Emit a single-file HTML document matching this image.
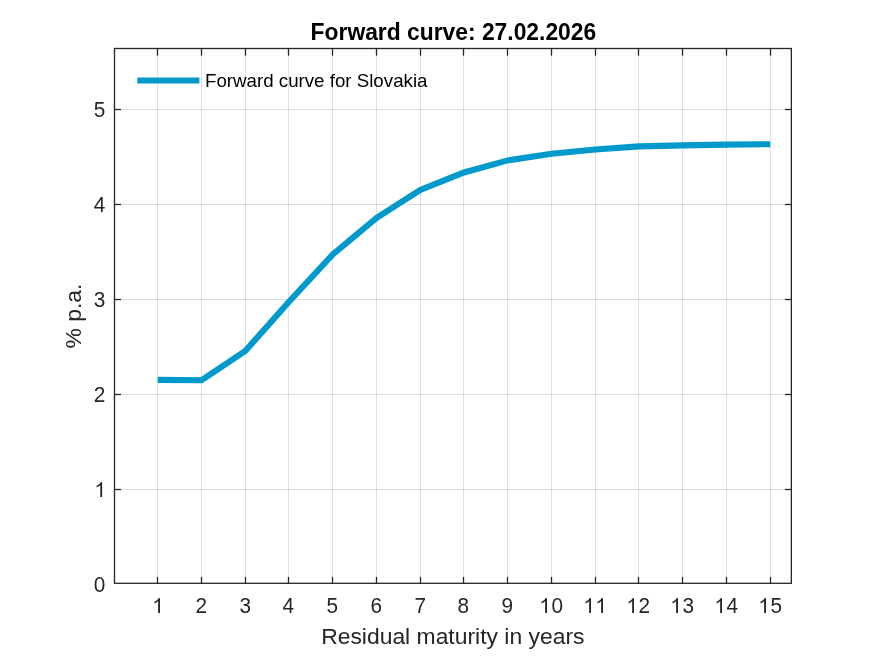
<!DOCTYPE html>
<html><head><meta charset="utf-8"><style>
html,body{margin:0;padding:0;background:#fff;}
body{width:875px;height:656px;overflow:hidden;}
svg{display:block;will-change:transform;}
text{font-family:"Liberation Sans",sans-serif;fill:#262626;font-kerning:none;}
</style></head><body>
<svg width="875" height="656" viewBox="0 0 875 656">
<rect x="0" y="0" width="875" height="656" fill="#fff"/>
<g stroke="#262626" stroke-opacity="0.15" stroke-width="1" shape-rendering="crispEdges">
<line x1="157.50" y1="48.50" x2="157.50" y2="583.30"/>
<line x1="201.50" y1="48.50" x2="201.50" y2="583.30"/>
<line x1="245.50" y1="48.50" x2="245.50" y2="583.30"/>
<line x1="288.50" y1="48.50" x2="288.50" y2="583.30"/>
<line x1="332.50" y1="48.50" x2="332.50" y2="583.30"/>
<line x1="376.50" y1="48.50" x2="376.50" y2="583.30"/>
<line x1="420.50" y1="48.50" x2="420.50" y2="583.30"/>
<line x1="463.50" y1="48.50" x2="463.50" y2="583.30"/>
<line x1="507.50" y1="48.50" x2="507.50" y2="583.30"/>
<line x1="551.50" y1="48.50" x2="551.50" y2="583.30"/>
<line x1="595.50" y1="48.50" x2="595.50" y2="583.30"/>
<line x1="638.50" y1="48.50" x2="638.50" y2="583.30"/>
<line x1="682.50" y1="48.50" x2="682.50" y2="583.30"/>
<line x1="726.50" y1="48.50" x2="726.50" y2="583.30"/>
<line x1="770.50" y1="48.50" x2="770.50" y2="583.30"/>
<line x1="114.50" y1="489.50" x2="791.35" y2="489.50"/>
<line x1="114.50" y1="394.50" x2="791.35" y2="394.50"/>
<line x1="114.50" y1="299.50" x2="791.35" y2="299.50"/>
<line x1="114.50" y1="204.50" x2="791.35" y2="204.50"/>
<line x1="114.50" y1="109.50" x2="791.35" y2="109.50"/>
</g>
<polyline points="157.75,379.90 201.50,380.30 245.25,351.00 289.00,301.80 332.75,254.50 376.50,218.00 420.25,190.00 464.00,172.50 507.75,160.40 551.50,153.80 595.25,149.50 639.00,146.40 682.75,145.40 726.50,144.60 770.25,144.20" fill="none" stroke="#0099cc" stroke-width="6.1" stroke-linejoin="miter" stroke-linecap="butt"/>
<line x1="137.3" y1="80.5" x2="199.4" y2="80.5" stroke="#0099cc" stroke-width="6.1"/>
<text transform="translate(205.00,86.70) scale(1,1.0)" font-size="18.72" style="fill:#000">Forward curve for Slovakia</text>
<g stroke="#262626" stroke-width="1.3">
<rect x="114.50" y="48.50" width="676.85" height="534.80" fill="none"/>
<line x1="157.50" y1="583.30" x2="157.50" y2="576.80"/>
<line x1="157.50" y1="48.50" x2="157.50" y2="55.70"/>
<line x1="201.50" y1="583.30" x2="201.50" y2="576.80"/>
<line x1="201.50" y1="48.50" x2="201.50" y2="55.70"/>
<line x1="245.50" y1="583.30" x2="245.50" y2="576.80"/>
<line x1="245.50" y1="48.50" x2="245.50" y2="55.70"/>
<line x1="288.50" y1="583.30" x2="288.50" y2="576.80"/>
<line x1="288.50" y1="48.50" x2="288.50" y2="55.70"/>
<line x1="332.50" y1="583.30" x2="332.50" y2="576.80"/>
<line x1="332.50" y1="48.50" x2="332.50" y2="55.70"/>
<line x1="376.50" y1="583.30" x2="376.50" y2="576.80"/>
<line x1="376.50" y1="48.50" x2="376.50" y2="55.70"/>
<line x1="420.50" y1="583.30" x2="420.50" y2="576.80"/>
<line x1="420.50" y1="48.50" x2="420.50" y2="55.70"/>
<line x1="463.50" y1="583.30" x2="463.50" y2="576.80"/>
<line x1="463.50" y1="48.50" x2="463.50" y2="55.70"/>
<line x1="507.50" y1="583.30" x2="507.50" y2="576.80"/>
<line x1="507.50" y1="48.50" x2="507.50" y2="55.70"/>
<line x1="551.50" y1="583.30" x2="551.50" y2="576.80"/>
<line x1="551.50" y1="48.50" x2="551.50" y2="55.70"/>
<line x1="595.50" y1="583.30" x2="595.50" y2="576.80"/>
<line x1="595.50" y1="48.50" x2="595.50" y2="55.70"/>
<line x1="638.50" y1="583.30" x2="638.50" y2="576.80"/>
<line x1="638.50" y1="48.50" x2="638.50" y2="55.70"/>
<line x1="682.50" y1="583.30" x2="682.50" y2="576.80"/>
<line x1="682.50" y1="48.50" x2="682.50" y2="55.70"/>
<line x1="726.50" y1="583.30" x2="726.50" y2="576.80"/>
<line x1="726.50" y1="48.50" x2="726.50" y2="55.70"/>
<line x1="770.50" y1="583.30" x2="770.50" y2="576.80"/>
<line x1="770.50" y1="48.50" x2="770.50" y2="55.70"/>
<line x1="114.50" y1="489.50" x2="121.00" y2="489.50"/>
<line x1="791.35" y1="489.50" x2="784.85" y2="489.50"/>
<line x1="114.50" y1="394.50" x2="121.00" y2="394.50"/>
<line x1="791.35" y1="394.50" x2="784.85" y2="394.50"/>
<line x1="114.50" y1="299.50" x2="121.00" y2="299.50"/>
<line x1="791.35" y1="299.50" x2="784.85" y2="299.50"/>
<line x1="114.50" y1="204.50" x2="121.00" y2="204.50"/>
<line x1="791.35" y1="204.50" x2="784.85" y2="204.50"/>
<line x1="114.50" y1="109.50" x2="121.00" y2="109.50"/>
<line x1="791.35" y1="109.50" x2="784.85" y2="109.50"/>
</g>
<g>
<path fill="#262626" transform="translate(152.50,612.90) scale(0.01016,-0.01016)" d="M738 0H558V1147C515 1106 458 1065 388 1024C318 983 255 952 198 931V1105C298 1152 385 1209 460 1276C535 1343 588 1408 619 1472H738Z"/>
<text transform="translate(195.50,612.90) scale(1,1.03)" font-size="20.8">2</text>
<text transform="translate(239.50,612.90) scale(1,1.03)" font-size="20.8">3</text>
<text transform="translate(282.50,612.90) scale(1,1.03)" font-size="20.8">4</text>
<text transform="translate(326.50,612.90) scale(1,1.03)" font-size="20.8">5</text>
<text transform="translate(370.50,612.90) scale(1,1.03)" font-size="20.8">6</text>
<text transform="translate(414.50,612.90) scale(1,1.03)" font-size="20.8">7</text>
<text transform="translate(457.50,612.90) scale(1,1.03)" font-size="20.8">8</text>
<text transform="translate(501.50,612.90) scale(1,1.03)" font-size="20.8">9</text>
<path fill="#262626" transform="translate(539.50,612.90) scale(0.01016,-0.01016)" d="M738 0H558V1147C515 1106 458 1065 388 1024C318 983 255 952 198 931V1105C298 1152 385 1209 460 1276C535 1343 588 1408 619 1472H738Z"/><text transform="translate(551.50,612.90) scale(1,1.03)" font-size="20.8">0</text>
<path fill="#262626" transform="translate(583.50,612.90) scale(0.01016,-0.01016)" d="M738 0H558V1147C515 1106 458 1065 388 1024C318 983 255 952 198 931V1105C298 1152 385 1209 460 1276C535 1343 588 1408 619 1472H738Z"/><path fill="#262626" transform="translate(595.50,612.90) scale(0.01016,-0.01016)" d="M738 0H558V1147C515 1106 458 1065 388 1024C318 983 255 952 198 931V1105C298 1152 385 1209 460 1276C535 1343 588 1408 619 1472H738Z"/>
<path fill="#262626" transform="translate(626.50,612.90) scale(0.01016,-0.01016)" d="M738 0H558V1147C515 1106 458 1065 388 1024C318 983 255 952 198 931V1105C298 1152 385 1209 460 1276C535 1343 588 1408 619 1472H738Z"/><text transform="translate(638.50,612.90) scale(1,1.03)" font-size="20.8">2</text>
<path fill="#262626" transform="translate(670.50,612.90) scale(0.01016,-0.01016)" d="M738 0H558V1147C515 1106 458 1065 388 1024C318 983 255 952 198 931V1105C298 1152 385 1209 460 1276C535 1343 588 1408 619 1472H738Z"/><text transform="translate(682.50,612.90) scale(1,1.03)" font-size="20.8">3</text>
<path fill="#262626" transform="translate(714.50,612.90) scale(0.01016,-0.01016)" d="M738 0H558V1147C515 1106 458 1065 388 1024C318 983 255 952 198 931V1105C298 1152 385 1209 460 1276C535 1343 588 1408 619 1472H738Z"/><text transform="translate(726.50,612.90) scale(1,1.03)" font-size="20.8">4</text>
<path fill="#262626" transform="translate(758.50,612.90) scale(0.01016,-0.01016)" d="M738 0H558V1147C515 1106 458 1065 388 1024C318 983 255 952 198 931V1105C298 1152 385 1209 460 1276C535 1343 588 1408 619 1472H738Z"/><text transform="translate(770.50,612.90) scale(1,1.03)" font-size="20.8">5</text>
<text transform="translate(93.63,591.90) scale(1,1.03)" font-size="20.8">0</text>
<path fill="#262626" transform="translate(94.63,496.90) scale(0.01016,-0.01016)" d="M738 0H558V1147C515 1106 458 1065 388 1024C318 983 255 952 198 931V1105C298 1152 385 1209 460 1276C535 1343 588 1408 619 1472H738Z"/>
<text transform="translate(93.63,401.90) scale(1,1.03)" font-size="20.8">2</text>
<text transform="translate(93.63,306.90) scale(1,1.03)" font-size="20.8">3</text>
<text transform="translate(93.63,211.90) scale(1,1.03)" font-size="20.8">4</text>
<text transform="translate(93.63,116.90) scale(1,1.03)" font-size="20.8">5</text>
</g>
<text transform="translate(452.80,644.00) scale(1,1.0)" font-size="22.9" text-anchor="middle">Residual maturity in years</text>
<text transform="translate(80.60,316.00) rotate(-90) scale(1,1.0)" font-size="22.9" text-anchor="middle">% p.a.</text>
<text transform="translate(453.40,40.10) scale(1,1.02)" font-size="22.85" text-anchor="middle" font-weight="bold" style="fill:#000">Forward curve: 27.02.2026</text>
</svg>
</body></html>
